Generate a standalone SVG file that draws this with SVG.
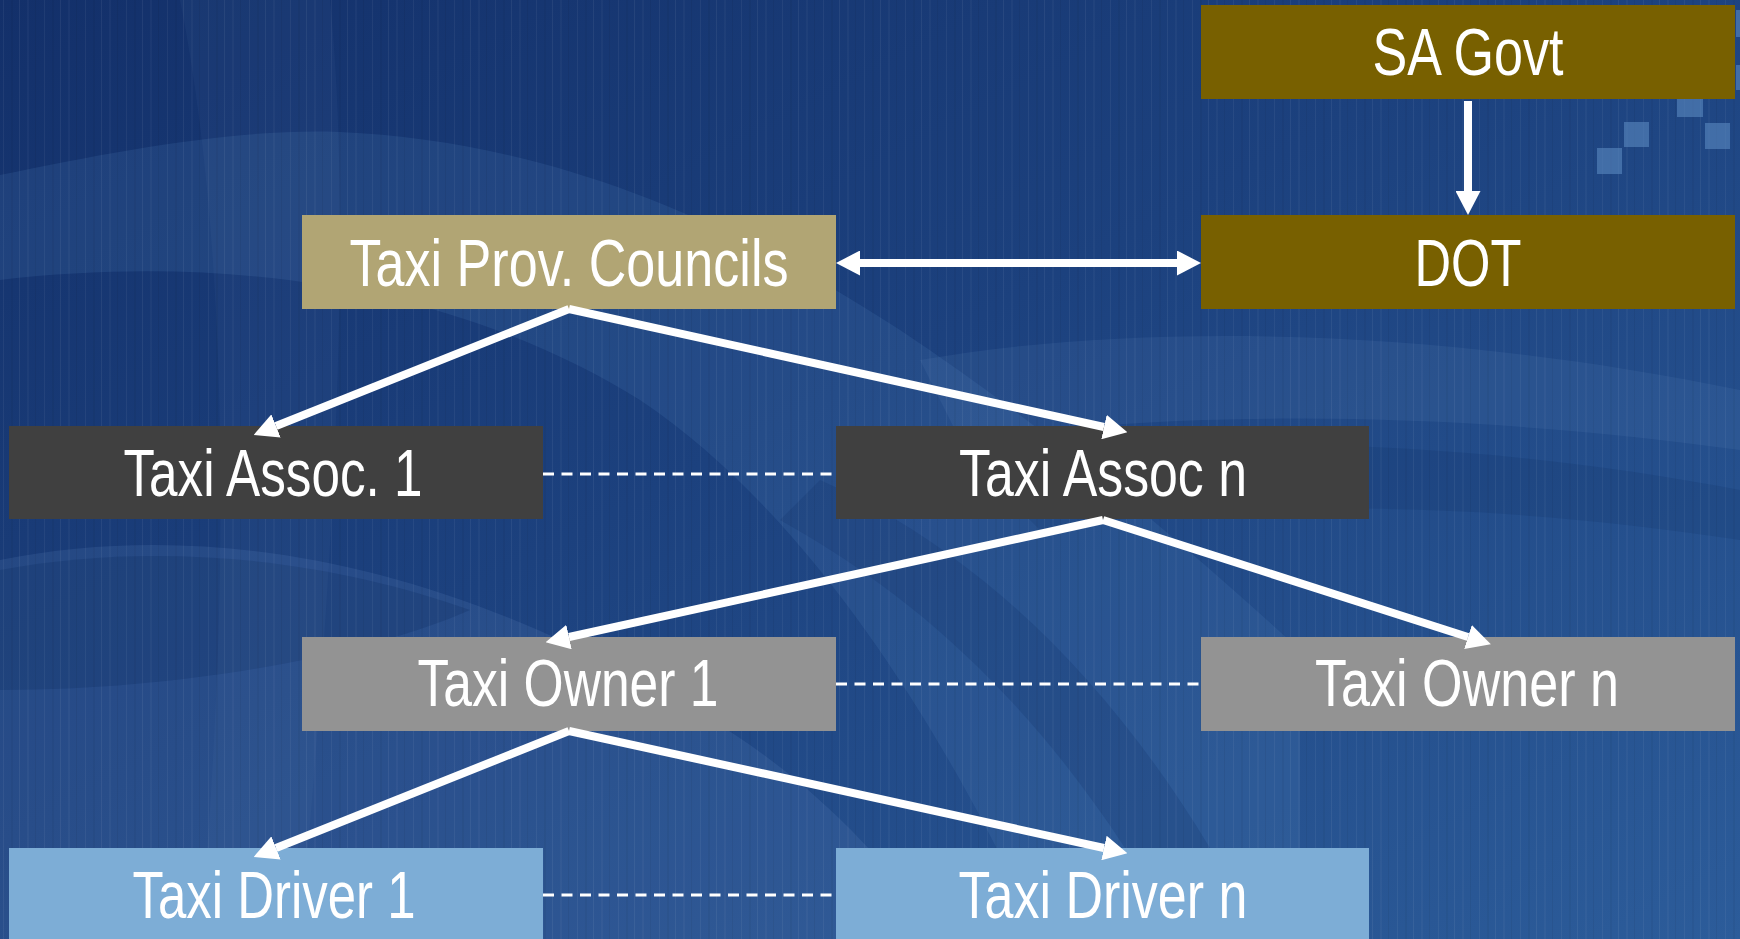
<svg xmlns="http://www.w3.org/2000/svg" width="1740" height="939" viewBox="0 0 1740 939">
  <defs>
    <linearGradient id="bg" x1="0" y1="0" x2="1" y2="1">
      <stop offset="0" stop-color="#13306a"/>
      <stop offset="0.45" stop-color="#1c417e"/>
      <stop offset="1" stop-color="#2c5c9a"/>
    </linearGradient>
    <pattern id="streaks" width="41" height="939" patternUnits="userSpaceOnUse">
      <rect x="3" y="0" width="1" height="939" fill="#ffffff" opacity="0.05"/>
      <rect x="11" y="0" width="2" height="939" fill="#000000" opacity="0.04"/>
      <rect x="19" y="0" width="1" height="939" fill="#ffffff" opacity="0.06"/>
      <rect x="27" y="0" width="2" height="939" fill="#ffffff" opacity="0.03"/>
      <rect x="35" y="0" width="1" height="939" fill="#000000" opacity="0.05"/>
    </pattern>
    <marker id="head" viewBox="0 0 24 25" markerWidth="24" markerHeight="25" refX="0" refY="12.5" orient="auto-start-reverse" markerUnits="userSpaceOnUse">
      <path d="M0,0 L24,12.5 L0,25 z" fill="#ffffff"/>
    </marker>
  </defs>
  <style>
    .box-gov { fill: #786000; }
    .box-prov { fill: #b1a574; }
    .box-assoc { fill: #404040; }
    .box-owner { fill: #939393; }
    .box-driver { fill: #7dadd6; }
    .label { font-family: "Liberation Sans", Arial, sans-serif; font-size: 66px; fill: #ffffff; text-anchor: middle; }
    .arrow { stroke: #ffffff; stroke-width: 8; fill: none; marker-end: url(#head); }
    .link { stroke: #ffffff; stroke-width: 3; stroke-dasharray: 11 7.5; fill: none; }
    .tile { fill: #5a88c0; opacity: 0.6; }
  </style>

  <!-- background -->
  <g id="background">
    <rect width="1740" height="939" fill="url(#bg)"/>
    <!-- soft light sweeps -->
    <path d="M0,175 C120,150 240,128 340,132 C520,140 700,200 900,330 C1050,430 1180,540 1300,650 L1300,939 L1040,939 C960,760 820,520 640,400 C480,300 260,250 0,280 Z" fill="#5a86c0" opacity="0.16"/>
    <path d="M0,560 C200,520 420,560 640,680 C760,740 860,820 940,939 L0,939 Z" fill="#6a92c8" opacity="0.16"/>
    <path d="M0,570 C160,540 330,560 470,610 C380,650 200,690 0,690 Z" fill="#0d2a60" opacity="0.25"/>
    <path d="M920,360 C1150,320 1450,330 1740,390 L1740,450 C1450,410 1180,410 960,440 Z" fill="#6a92c8" opacity="0.12"/>
    <path d="M980,470 C1200,430 1480,440 1740,490 L1740,540 C1480,500 1240,500 1040,530 Z" fill="#0d2a60" opacity="0.16"/>
    <path d="M820,480 C1000,560 1150,720 1260,939 L1180,939 C1080,760 960,620 780,520 Z" fill="#0f2c62" opacity="0.2"/>
    <path d="M180,0 L330,0 C350,200 340,500 300,939 L200,939 C230,600 230,250 180,0 Z" fill="#7aa0d0" opacity="0.06"/>
    <rect width="1740" height="939" fill="url(#streaks)"/>
    <!-- small tiles -->
    <rect class="tile" x="1677" y="92" width="26" height="25"/>
    <rect class="tile" x="1624" y="122" width="25" height="25"/>
    <rect class="tile" x="1597" y="148" width="25" height="26"/>
    <rect class="tile" x="1705" y="123" width="25" height="26"/>
    <rect class="tile" x="1736" y="10" width="25" height="27"/>
    <rect class="tile" x="1736" y="65" width="25" height="25"/>
  </g>

  <!-- nodes -->
  <g id="sa-govt">
    <rect class="box-gov" x="1201" y="5" width="534" height="94"/>
    <text class="label" x="1468" y="75" textLength="191" lengthAdjust="spacingAndGlyphs">SA Govt</text>
  </g>
  <g id="dot">
    <rect class="box-gov" x="1201" y="215" width="534" height="94"/>
    <text class="label" x="1468" y="286" textLength="107" lengthAdjust="spacingAndGlyphs">DOT</text>
  </g>
  <g id="taxi-prov-councils">
    <rect class="box-prov" x="302" y="215" width="534" height="94"/>
    <text class="label" x="569" y="286" textLength="439" lengthAdjust="spacingAndGlyphs">Taxi Prov. Councils</text>
  </g>
  <g id="taxi-assoc-1">
    <rect class="box-assoc" x="9" y="426" width="534" height="93"/>
    <text class="label" x="273" y="496" textLength="299" lengthAdjust="spacingAndGlyphs">Taxi Assoc. 1</text>
  </g>
  <g id="taxi-assoc-n">
    <rect class="box-assoc" x="836" y="426" width="533" height="93"/>
    <text class="label" x="1103" y="496" textLength="288" lengthAdjust="spacingAndGlyphs">Taxi Assoc n</text>
  </g>
  <g id="taxi-owner-1">
    <rect class="box-owner" x="302" y="637" width="534" height="94"/>
    <text class="label" x="568" y="706" textLength="301" lengthAdjust="spacingAndGlyphs">Taxi Owner 1</text>
  </g>
  <g id="taxi-owner-n">
    <rect class="box-owner" x="1201" y="637" width="534" height="94"/>
    <text class="label" x="1467" y="706" textLength="304" lengthAdjust="spacingAndGlyphs">Taxi Owner n</text>
  </g>
  <g id="taxi-driver-1">
    <rect class="box-driver" x="9" y="848" width="534" height="94"/>
    <text class="label" x="274" y="918" textLength="283" lengthAdjust="spacingAndGlyphs">Taxi Driver 1</text>
  </g>
  <g id="taxi-driver-n">
    <rect class="box-driver" x="836" y="848" width="533" height="94"/>
    <text class="label" x="1103" y="918" textLength="289" lengthAdjust="spacingAndGlyphs">Taxi Driver n</text>
  </g>

  <!-- connectors, drawn over the boxes so the heads overlap their top edges -->
  <g id="connectors">
    <line class="arrow" x1="1468" y1="101" x2="1468" y2="191"/>
    <line class="arrow" x1="860" y1="263" x2="1177" y2="263" marker-start="url(#head)"/>
    <line class="arrow" x1="569" y1="309" x2="276" y2="426"/>
    <line class="arrow" x1="569" y1="309" x2="1104" y2="427"/>
    <line class="arrow" x1="1103" y1="520" x2="569" y2="637"/>
    <line class="arrow" x1="1103" y1="520" x2="1468" y2="637"/>
    <line class="arrow" x1="569" y1="731" x2="276" y2="848"/>
    <line class="arrow" x1="569" y1="731" x2="1104" y2="848"/>
    <line class="link" x1="543" y1="474" x2="836" y2="474"/>
    <line class="link" x1="836" y1="684" x2="1201" y2="684"/>
    <line class="link" x1="543" y1="895" x2="836" y2="895"/>
  </g>
</svg>
